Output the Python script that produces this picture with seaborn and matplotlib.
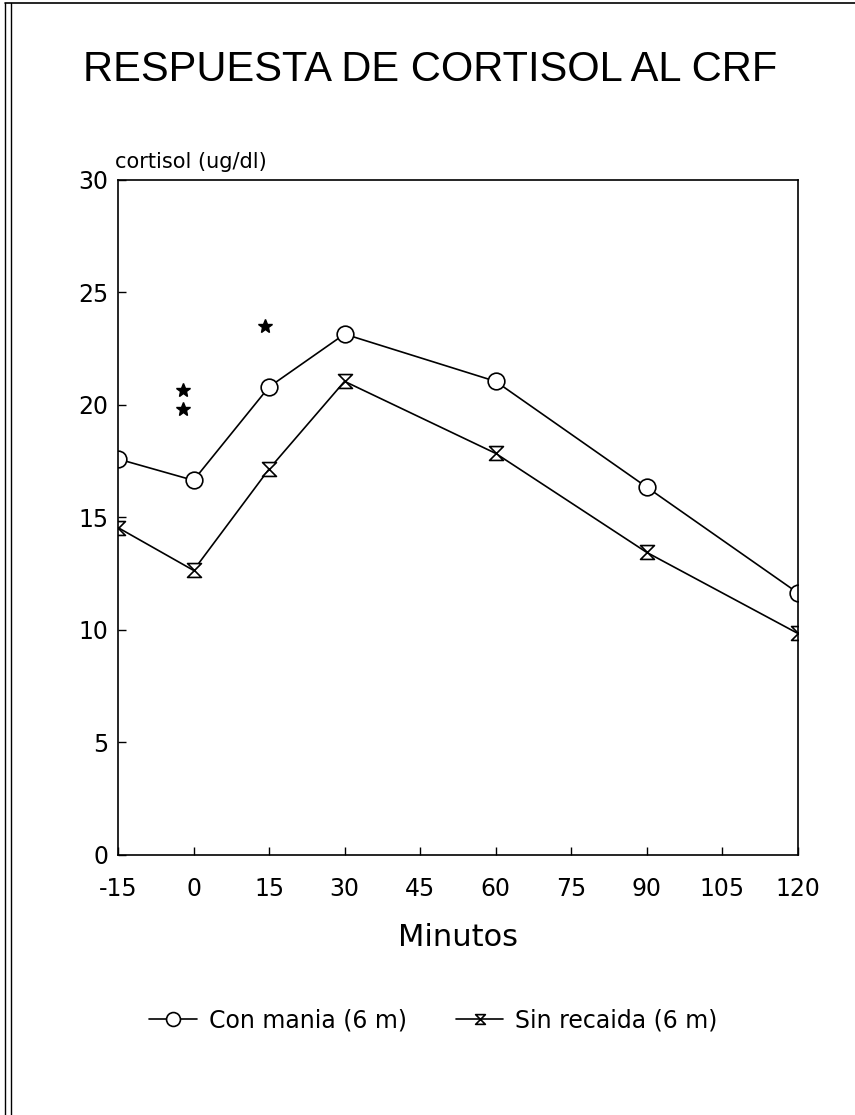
import matplotlib
matplotlib.use("Agg")
import matplotlib.pyplot as plt
from matplotlib.path import Path
from matplotlib.lines import Line2D
import seaborn as sns
import pandas as pd

# datos
minutos = [-15, 0, 15, 30, 60, 90, 120]
con_mania = [17.6, 16.65, 20.8, 23.15, 21.05, 16.35, 11.65]
sin_recaida = [14.55, 12.65, 17.15, 21.05, 17.85, 13.45, 9.85]
estrellas_x = [-2, -2, 14.2]
estrellas_y = [20.65, 19.8, 23.5]

df = pd.DataFrame({"min": minutos, "con": con_mania, "sin": sin_recaida})

sns.set_style("ticks")
plt.rcParams["font.family"] = ["DejaVu Sans"]
plt.rcParams["axes.unicode_minus"] = False
for k in ["text.color", "axes.labelcolor", "xtick.color", "ytick.color", "axes.edgecolor"]:
    plt.rcParams[k] = "black"

# marcador tipo reloj de arena
reloj = Path([(-1, 1), (1, 1), (-1, -1), (1, -1), (-1, 1)],
             [Path.MOVETO, Path.LINETO, Path.LINETO, Path.LINETO, Path.CLOSEPOLY])

fig = plt.figure(figsize=(8.55, 11.15), dpi=100)
ax = fig.add_axes([0.138, 0.2332, 0.795, 0.6054])

sns.lineplot(data=df, x="min", y="con", ax=ax, color="black", lw=1.2,
             marker="o", markersize=12, mfc="white", mec="black", mew=1.2)
sns.lineplot(data=df, x="min", y="sin", ax=ax, color="black", lw=1.2,
             marker=reloj, markersize=10, mfc="white", mec="black", mew=1.2)
ax.plot(estrellas_x, estrellas_y, ls="none", marker="*", color="black", markersize=10)

ax.set_xlim(-15, 120)
ax.set_ylim(0, 30)
ax.set_xticks(range(-15, 121, 15))
ax.set_yticks(range(0, 31, 5))
ax.tick_params(direction="in", length=6, width=1, labelsize=17)
ax.tick_params(axis="x", pad=16)
ax.tick_params(axis="y", pad=7)
for s in ax.spines.values():
    s.set_linewidth(1.2)
ax.set_xlabel("Minutos", fontsize=22, labelpad=16)
ax.set_ylabel("")
ax.text(-0.004, 1.012, "cortisol (ug/dl)", transform=ax.transAxes, fontsize=15,
        ha="left", va="bottom")

fig.text(0.503, 0.937, "RESPUESTA DE CORTISOL AL CRF", fontsize=30,
         ha="center", va="center", family="Liberation Sans")

handles = [
    Line2D([], [], color="black", lw=1.2, marker="o", markersize=10, mfc="white", mew=1.2),
    Line2D([], [], color="black", lw=1.2, marker=reloj, markersize=7, mfc="white", mew=1.2),
]
fig.legend(handles, ["Con mania (6 m)", "Sin recaida (6 m)"], loc="center",
           bbox_to_anchor=(0.507, 0.085), ncol=2, frameon=False, fontsize=17,
           handlelength=2.0, handletextpad=0.5, columnspacing=2.1)

# borde de la pagina escaneada
fig.add_artist(Line2D([0.006, 0.006], [0, 0.997], color="black", lw=1))
fig.add_artist(Line2D([0.013, 0.013], [0, 0.997], color="black", lw=1))
fig.add_artist(Line2D([0.006, 1.0], [0.997, 0.997], color="black", lw=1.2))

fig.savefig("out.png", dpi=100)
